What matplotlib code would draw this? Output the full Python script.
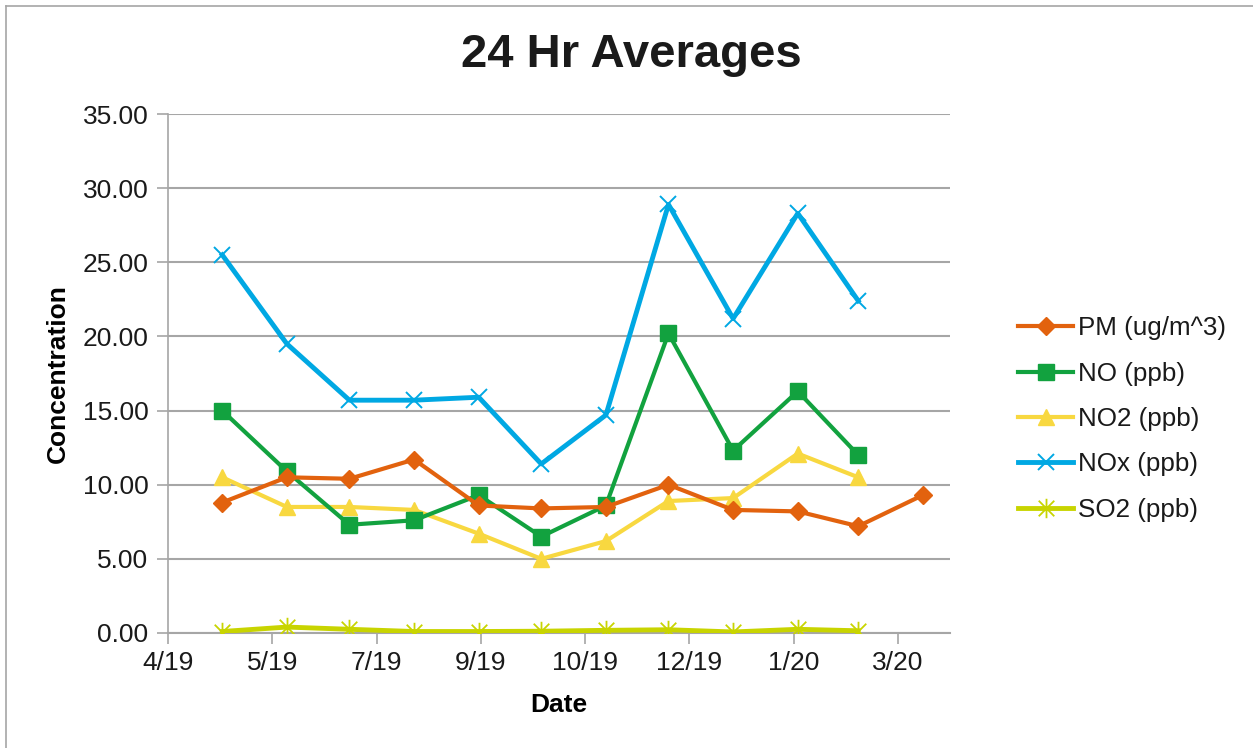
import matplotlib
matplotlib.use("Agg")
import matplotlib.pyplot as plt
from matplotlib.path import Path
import numpy as np
import datetime as dt

plt.rcParams['font.family'] = ['Liberation Sans', 'DejaVu Sans']

# ---- data ----
start = dt.date(2019, 4, 5)          # axis minimum (Excel date axis)
tick_step_days = 50
tick_labels = ["4/19", "5/19", "7/19", "9/19", "10/19", "12/19", "1/20", "3/20"]

pm_dates = ["2019-05-01", "2019-06-01", "2019-07-01", "2019-08-01", "2019-09-01",
            "2019-10-01", "2019-11-01", "2019-12-01", "2020-01-01", "2020-02-01",
            "2020-03-01", "2020-04-01"]
pm = [8.8, 10.5, 10.4, 11.7, 8.6, 8.4, 8.5, 10.0, 8.3, 8.2, 7.2, 9.3]

gas_dates = pm_dates[:11]
no = [15.0, 10.9, 7.3, 7.6, 9.3, 6.5, 8.6, 20.2, 12.3, 16.3, 12.0]
no2 = [10.5, 8.5, 8.5, 8.3, 6.7, 5.0, 6.2, 8.9, 9.1, 12.1, 10.5]
nox = [25.5, 19.5, 15.7, 15.7, 15.9, 11.4, 14.7, 28.9, 21.2, 28.3, 22.4]
so2 = [0.10, 0.40, 0.25, 0.10, 0.10, 0.12, 0.18, 0.22, 0.07, 0.25, 0.15]


def to_days(ds):
    return [(dt.date.fromisoformat(d) - start).days for d in ds]


x_pm = to_days(pm_dates)
x_gas = to_days(gas_dates)

# Excel-style star marker: vertical bar plus an X
star = Path([(0, -1), (0, 1), (-0.8, -0.8), (0.8, 0.8), (-0.8, 0.8), (0.8, -0.8)],
            [Path.MOVETO, Path.LINETO, Path.MOVETO, Path.LINETO, Path.MOVETO, Path.LINETO])

fig = plt.figure(figsize=(12.53, 7.48), dpi=100)
ax = fig.add_axes([168 / 1253, 1 - 633 / 748, (950 - 168) / 1253, (633 - 114) / 748])

lw = 3.0
ax.plot(x_pm, pm, color="#E2620E", lw=lw, marker="D", ms=9, label="PM (ug/m^3)", zorder=5)
ax.plot(x_gas, no, color="#12A23F", lw=lw, marker="s", ms=11, label="NO (ppb)", zorder=4)
ax.plot(x_gas, no2, color="#F8D840", lw=lw, marker="^", ms=12, label="NO2 (ppb)", zorder=3)
ax.plot(x_gas, nox, color="#00A8E3", lw=lw + 0.5, marker="x", ms=12, mew=1.4, label="NOx (ppb)", zorder=6)
ax.plot(x_gas, so2, color="#C8D400", lw=lw + 0.5, marker=star, ms=14, mew=1.3, label="SO2 (ppb)", zorder=7)

ax.set_ylim(0, 35)
ax.set_yticks(np.arange(0, 35.01, 5))
ax.set_yticklabels([f"{v:.2f}" for v in np.arange(0, 35.01, 5)])
ax.set_xlim(0, 7.5 * tick_step_days)
ax.set_xticks([i * tick_step_days for i in range(len(tick_labels))])
ax.set_xticklabels(tick_labels)

ax.grid(axis="y", color="#A6A6A6", lw=1.5)
ax.set_axisbelow(True)
for s in ["top", "right"]:
    ax.spines[s].set_visible(False)
ax.spines["left"].set_color("#A6A6A6")
ax.spines["bottom"].set_color("#A6A6A6")
ax.spines["left"].set_linewidth(1.2)
ax.spines["bottom"].set_linewidth(1.5)
ax.tick_params(axis="both", colors="#A6A6A6", labelcolor="#1a1a1a", labelsize=19, length=8, width=1.2)
ax.tick_params(axis="x", pad=5)
ax.tick_params(axis="y", pad=6)

ax.set_xlabel("Date", fontsize=19, fontweight="bold", labelpad=13)
ax.set_ylabel("Concentration", fontsize=19, fontweight="bold", labelpad=9)
fig.text(631 / 1253, 1 - 55 / 748, "24 Hr Averages", ha="center", va="center",
         fontsize=34, fontweight="bold", color="#1a1a1a")

leg = fig.legend(loc="center left", bbox_to_anchor=(1008 / 1253, 1 - 419 / 748),
                 frameon=False, fontsize=18.7, handlelength=2.1, handletextpad=0.2,
                 labelspacing=0.82, borderaxespad=0)
for t in leg.get_texts():
    t.set_color("#1a1a1a")

# chart border
fig.add_artist(plt.Line2D([6 / 1253, 6 / 1253], [0, 1 - 6 / 748], color="#A6A6A6", lw=1.2,
                          transform=fig.transFigure))
fig.add_artist(plt.Line2D([6 / 1253, 1], [1 - 6 / 748, 1 - 6 / 748], color="#A6A6A6", lw=1.2,
                          transform=fig.transFigure))

fig.savefig("out.png", dpi=100)
